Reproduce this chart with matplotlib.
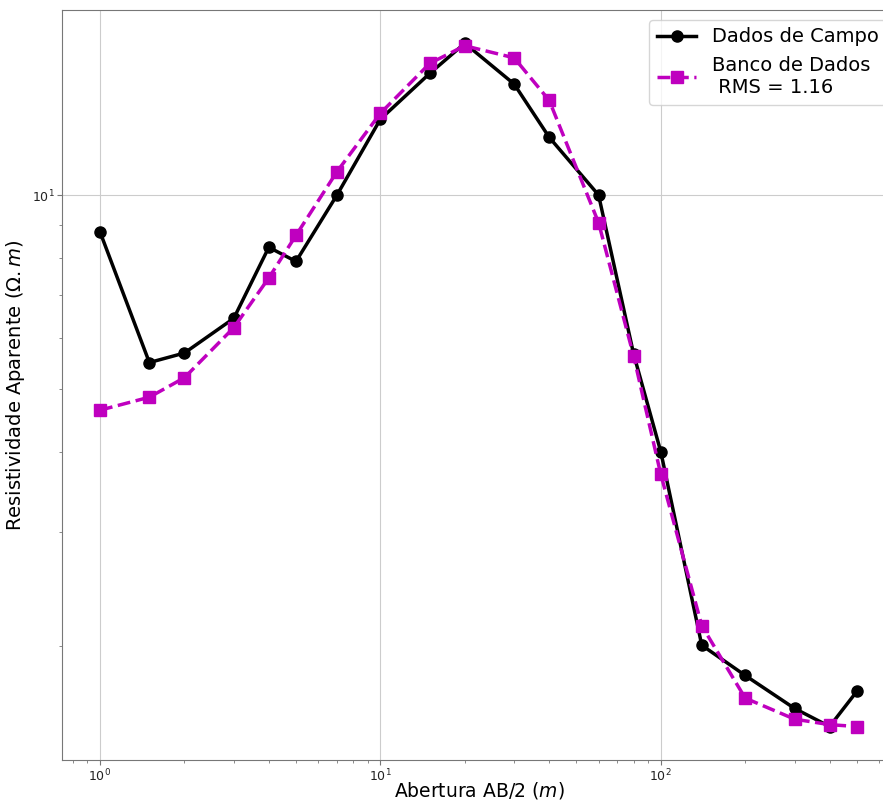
import numpy as np
import matplotlib
matplotlib.use("Agg")
import matplotlib.pyplot as plt
from matplotlib.ticker import NullFormatter

# AB/2 spacing (m)
ab2 = [1, 1.5, 2, 3, 4, 5, 7, 10, 15, 20, 30, 40, 60, 80, 100, 140, 200, 300, 400, 500]

# apparent resistivity, field data
rho_campo = [8.77, 5.50, 5.69, 6.44, 8.30, 7.89, 10.0, 13.11, 15.44, 17.19,
             14.86, 12.29, 10.0, 5.67, 4.00, 2.005, 1.80, 1.60, 1.50, 1.70]

# apparent resistivity, database curve
rho_banco = [4.64, 4.86, 5.21, 6.23, 7.44, 8.66, 10.87, 13.39, 16.00, 17.04,
             16.32, 14.02, 9.06, 5.63, 3.69, 2.15, 1.66, 1.54, 1.51, 1.50]

rms = 1.16

fig = plt.figure(figsize=(8.83, 8.02), dpi=100)
ax = fig.add_axes([62 / 883, 42 / 802, (896 - 62) / 883, 750 / 802])

ax.plot(ab2, rho_campo, color='k', marker='o', lw=2.5, ms=8, label='Dados de Campo')
ax.plot(ab2, rho_banco, color='m', marker='s', ls='--', lw=2.5, ms=8,
        label='Banco de Dados\n RMS = %.2f' % rms)

ax.set_xscale('log')
ax.set_yscale('log')
ax.set_xlim(0.732, 690)
ax.set_ylim(1.331, 19.36)
ax.yaxis.set_minor_formatter(NullFormatter())
ax.xaxis.set_minor_formatter(NullFormatter())

ax.grid(True, which='major', color='#cccccc', lw=0.8)
for s in ax.spines.values():
    s.set_color('#777777')
ax.tick_params(which='both', colors='#777777', labelcolor='#222222', labelsize=9, pad=2)

ax.set_xlabel('Abertura AB/2 ($m$)', fontsize=13.5, labelpad=-3)
ax.set_ylabel(r'Resistividade Aparente ($\Omega.m$)', fontsize=14, labelpad=3)
ax.legend(loc='upper right', fontsize=14)

fig.savefig('out.png', dpi=100)
